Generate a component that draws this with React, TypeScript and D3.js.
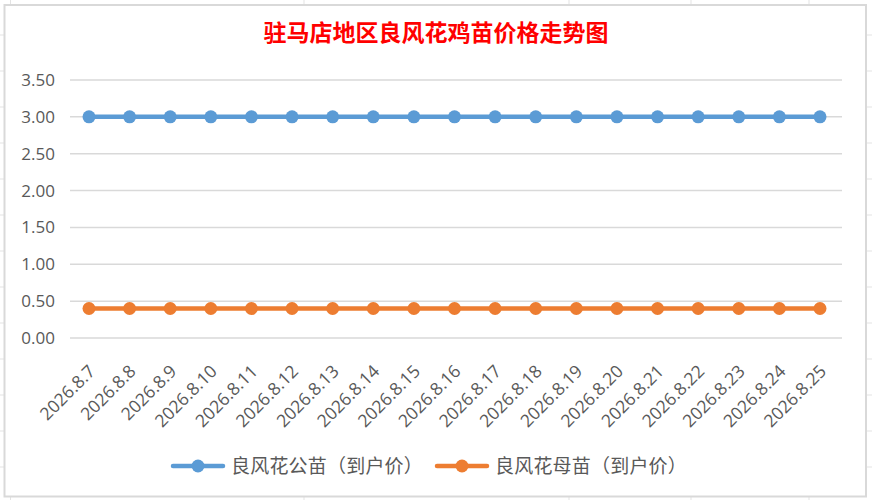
import { useEffect, useRef } from 'react';
import * as d3 from 'd3';

const dates = [
    '2026.8.7', '2026.8.8', '2026.8.9', '2026.8.10', '2026.8.11', '2026.8.12', '2026.8.13',
    '2026.8.14', '2026.8.15', '2026.8.16', '2026.8.17', '2026.8.18', '2026.8.19', '2026.8.20',
    '2026.8.21', '2026.8.22', '2026.8.23', '2026.8.24', '2026.8.25'
];
const malePrices = [3.0, 3.0, 3.0, 3.0, 3.0, 3.0, 3.0, 3.0, 3.0, 3.0, 3.0, 3.0, 3.0, 3.0, 3.0, 3.0, 3.0, 3.0, 3.0];
const femalePrices = [0.4, 0.4, 0.4, 0.4, 0.4, 0.4, 0.4, 0.4, 0.4, 0.4, 0.4, 0.4, 0.4, 0.4, 0.4, 0.4, 0.4, 0.4, 0.4];
const yTicks = [0, 0.5, 1.0, 1.5, 2.0, 2.5, 3.0, 3.5];
const seriesNames = ['良风花公苗（到户价）', '良风花母苗（到户价）'];
const seriesColors = ['#5B9BD5', '#ED7D31'];
const title = '驻马店地区良风花鸡苗价格走势图';

const W = 872;
const H = 500;
const latin = '"Open Sans", "Liberation Sans", sans-serif';
const cjk = '"Noto Sans CJK SC", sans-serif';

export default function App() {
    const svgRef = useRef<SVGSVGElement>(null);

    useEffect(() => {
        if (!svgRef.current) return;
        const svg = d3.select(svgRef.current);
        svg.selectAll('*').remove();

        // spreadsheet cells peeking out behind the chart
        const rows = d3.range(0, 13).map(i => 35 + i * 36);
        const cols = [10.5, 304, 569, 691, 809];
        svg.append('g').selectAll('line').data(rows).join('line')
            .attr('x1', 0).attr('x2', W).attr('y1', d => d).attr('y2', d => d)
            .attr('stroke', '#e3e3e3').attr('stroke-width', 1);
        svg.append('g').selectAll('line').data(cols).join('line')
            .attr('x1', d => d).attr('x2', d => d).attr('y1', 0).attr('y2', H)
            .attr('stroke', '#e3e3e3').attr('stroke-width', 1);

        // chart area
        svg.append('rect')
            .attr('x', 4.5).attr('y', 5)
            .attr('width', 861.5).attr('height', 491.5)
            .attr('fill', '#fff')
            .attr('stroke', '#d9d9d9').attr('stroke-width', 2);

        const x = d3.scalePoint<string>().domain(dates).range([89, 820]);
        const y = d3.scaleLinear().domain([0, 3.5]).range([338, 80]);

        // title
        svg.append('text')
            .attr('x', 436).attr('y', 33).attr('dy', '0.36em')
            .attr('text-anchor', 'middle')
            .attr('font-family', cjk).attr('font-size', 23).attr('font-weight', 'bold')
            .attr('fill', '#ff0000')
            .text(title);

        // gridlines + y labels
        svg.append('g').selectAll('line').data(yTicks).join('line')
            .attr('x1', 70).attr('x2', 842)
            .attr('y1', d => y(d)).attr('y2', d => y(d))
            .attr('stroke', '#d9d9d9').attr('stroke-width', 1.5);

        svg.append('g').selectAll('text').data(yTicks).join('text')
            .attr('x', 55).attr('y', d => y(d)).attr('dy', '0.35em')
            .attr('text-anchor', 'end')
            .attr('font-family', latin).attr('font-size', 17)
            .attr('fill', '#595959')
            .text(d => d.toFixed(2));

        // x labels, rotated
        svg.append('g').selectAll('text').data(dates).join('text')
            .attr('transform', d => `translate(${(x(d) ?? 0) + 3},368) rotate(-45)`)
            .attr('dy', '0.35em')
            .attr('text-anchor', 'end')
            .attr('font-family', latin).attr('font-size', 17.5)
            .attr('fill', '#595959')
            .text(d => d);

        // series
        const series = [malePrices, femalePrices];
        const line = d3.line<number>()
            .x((_, i) => x(dates[i]) ?? 0)
            .y(d => y(d));

        series.forEach((values, si) => {
            const g = svg.append('g');
            g.append('path')
                .datum(values)
                .attr('d', line)
                .attr('fill', 'none')
                .attr('stroke', seriesColors[si])
                .attr('stroke-width', 4.5)
                .attr('stroke-linecap', 'round');
            g.selectAll('circle').data(values).join('circle')
                .attr('cx', (_, i) => x(dates[i]) ?? 0)
                .attr('cy', d => y(d))
                .attr('r', 6.5)
                .attr('fill', seriesColors[si]);
        });

        // legend
        const legendY = 466;
        const legendX = [173, 437];
        seriesNames.forEach((name, i) => {
            const g = svg.append('g').attr('transform', `translate(${legendX[i]},${legendY})`);
            g.append('line')
                .attr('x1', 0).attr('x2', 50).attr('y1', 0).attr('y2', 0)
                .attr('stroke', seriesColors[i]).attr('stroke-width', 4.5)
                .attr('stroke-linecap', 'round');
            g.append('circle').attr('cx', 25).attr('cy', 0).attr('r', 6.5).attr('fill', seriesColors[i]);
            g.append('text')
                .attr('x', 58).attr('y', 0).attr('dy', '0.36em')
                .attr('font-family', cjk).attr('font-size', 19)
                .attr('letter-spacing', 0.2)
                .attr('fill', '#595959')
                .text(name);
        });
    }, []);

    return (
        <svg
            ref={svgRef}
            width={W}
            height={H}
            style={{ position: 'fixed', top: 0, left: 0, background: '#fff' }}
        />
    );
}
